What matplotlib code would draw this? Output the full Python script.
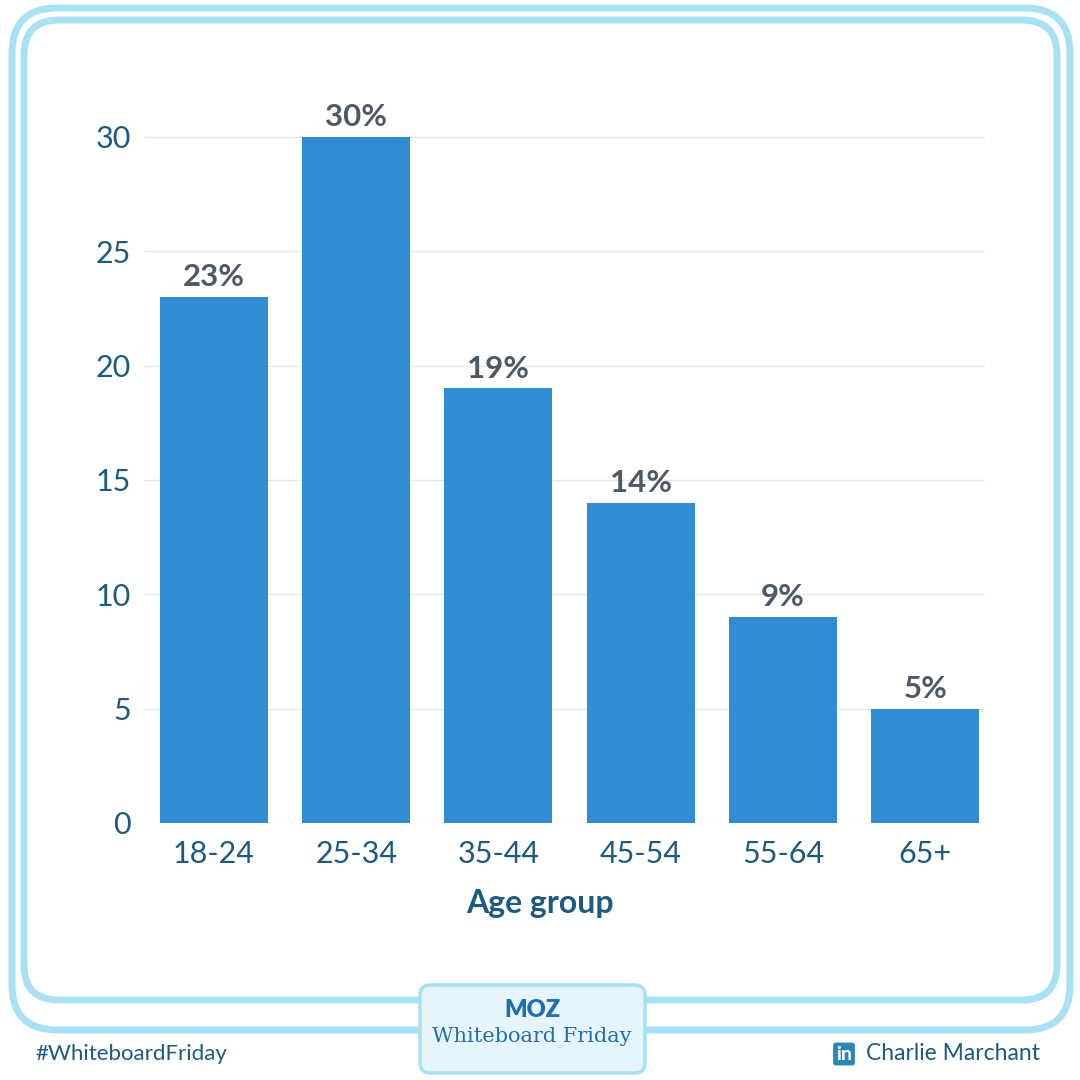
import matplotlib.pyplot as plt
from matplotlib.patches import FancyBboxPatch

groups = ["18-24", "25-34", "35-44", "45-54", "55-64", "65+"]
shares = [23, 30, 19, 14, 9, 5]
yticks = [0, 5, 10, 15, 20, 25, 30]

plt.rcParams['font.family'] = ['Lato', 'DejaVu Sans']

fig = plt.figure(figsize=(10.8, 10.8), dpi=100)
fig.patch.set_facecolor("white")

# frame
W = 1080
def rbox(x0, y0, x1, y1, lw, r, fc="none", ec="#a8e0f4"):
    p = FancyBboxPatch((x0 / W, 1 - y1 / W), (x1 - x0) / W, (y1 - y0) / W,
                       boxstyle="round,pad=0,rounding_size=%f" % (r / W),
                       transform=fig.transFigure, fc=fc, ec=ec, lw=lw, zorder=0)
    fig.patches.append(p)

rbox(12, 8, 1070, 1030, 5, 45)
rbox(24, 20, 1057, 1000, 5, 35)

ax = fig.add_axes([145 / W, 1 - 823 / W, 840 / W, 693 / W])
x = range(len(groups))
ax.bar(x, shares, width=0.76, color="#308dd4", zorder=3)
for i, v in zip(x, shares):
    ax.text(i, v + 0.25, f"{v}%", ha="center", va="bottom", fontsize=22.5,
            fontweight="bold", color="#4d5a66")
ax.set_xlim(-0.484, 5.42)
ax.set_ylim(0, 30.3)
ax.set_yticks(yticks)
ax.set_xticks(list(x))
ax.set_xticklabels(groups)
ax.tick_params(length=0, labelsize=22, labelcolor="#1d5a80", pad=12)
ax.tick_params(axis="y", pad=10)
ax.grid(axis="y", color="#e3e8ec", lw=1, zorder=0)
for s in ax.spines.values():
    s.set_visible(False)
ax.set_xlabel("Age group", fontsize=23, fontweight="bold", color="#1d5a80", labelpad=20)
ax.xaxis.set_label_coords((540 - 145) / 840, -0.095)

# footer
rbox(420, 985, 645, 1073, 2.5, 10, fc="#e6f5fb", ec="#a8e0f4")
fig.patches[-1].set_zorder(2)
fig.text(532 / W, 1 - 1010 / W, "MOZ", ha="center", va="center", fontsize=17,
         fontweight="heavy", color="#1f6fae")
fig.text(532 / W, 1 - 1036 / W, "Whiteboard Friday", ha="center", va="center",
         fontsize=15, color="#1f6fae", family="DejaVu Serif")
fig.text(35 / W, 1 - 1054 / W, "#WhiteboardFriday", ha="left", va="center",
         fontsize=16, color="#1d5a80")
fig.text(866 / W, 1 - 1054 / W, "Charlie Marchant", ha="left", va="center",
         fontsize=16.5, color="#1d5a80")
fig.text(844 / W, 1 - 1054 / W, "in", ha="center", va="center", fontsize=14,
         fontweight="bold", color="white",
         bbox=dict(boxstyle="round,pad=0.15", fc="#2a88b9", ec="none"))

fig.savefig("out.png", dpi=100)
